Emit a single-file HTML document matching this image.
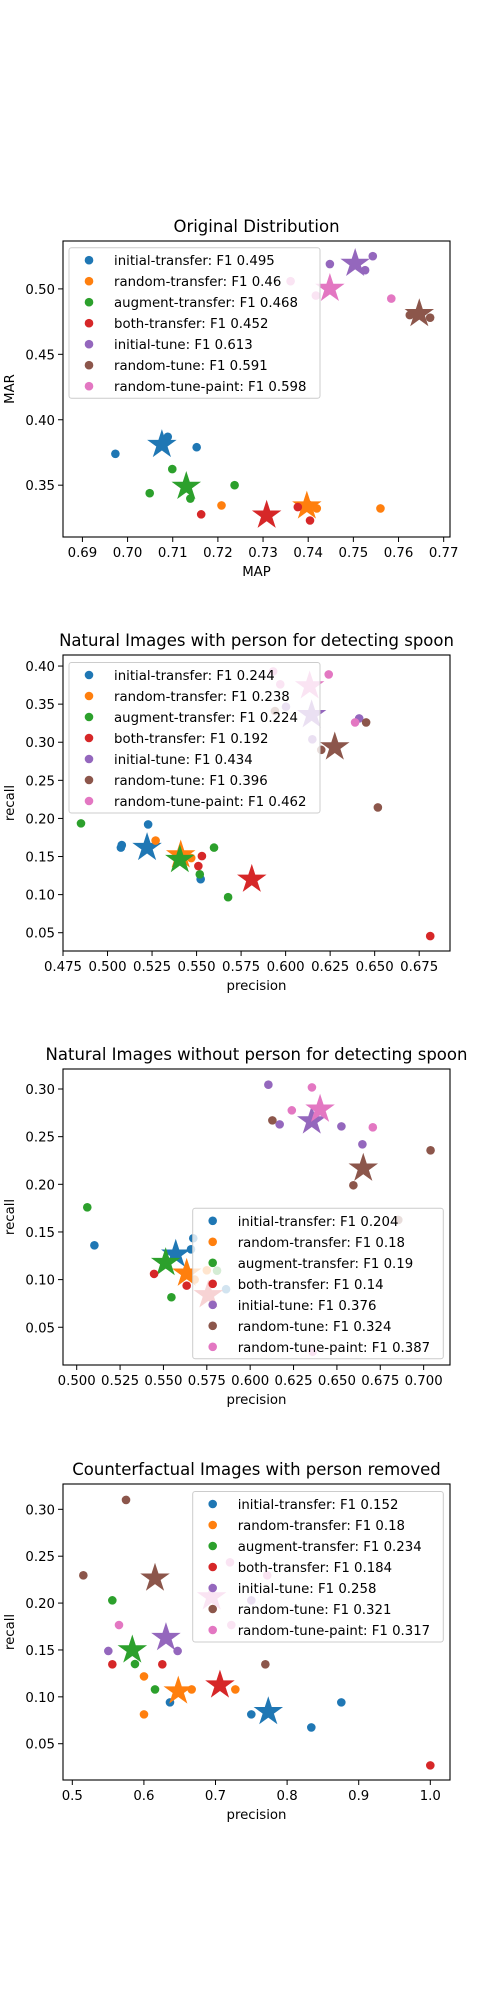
<!DOCTYPE html>
<html><head><meta charset="utf-8">
<style>
html,body{margin:0;padding:0;background:#fff;}
svg{display:block;font-family:"DejaVu Sans","Liberation Sans",sans-serif;}
</style></head>
<body>
<svg id="fig" width="500" height="2000" viewBox="0 0 500 2000" xmlns="http://www.w3.org/2000/svg"></svg>
<script>
const seriesNames = ["initial-transfer","random-transfer","augment-transfer","both-transfer","initial-tune","random-tune","random-tune-paint"];
const colors = ["#1f77b4","#ff7f0e","#2ca02c","#d62728","#9467bd","#8c564b","#e377c2"];

// Plot 1: Original Distribution
const p1F1 = ["0.495","0.46","0.468","0.452","0.613","0.591","0.598"];
const p1Dots = [
 [[0.6973,0.374],[0.7089,0.387],[0.7153,0.379],[0.7085,0.385]],
 [[0.7208,0.3345],[0.756,0.3322],[0.7419,0.3322],[0.740,0.3353]],
 [[0.7099,0.3623],[0.7049,0.3439],[0.7237,0.350],[0.7139,0.3398]],
 [[0.7163,0.3277],[0.7377,0.3333],[0.7404,0.323]],
 [[0.7448,0.519],[0.7543,0.525],[0.7526,0.5143]],
 [[0.767,0.478],[0.7625,0.480]],
 [[0.7361,0.5059],[0.7417,0.4949],[0.7584,0.4926]]
];
const p1Stars = [[0.7076,0.381],[0.7397,0.334],[0.713,0.349],[0.7308,0.327],[0.7504,0.5194],[0.7646,0.481],[0.7448,0.5003]];
const p1XTicks = [0.69,0.70,0.71,0.72,0.73,0.74,0.75,0.76,0.77];
const p1YTicks = [0.35,0.40,0.45,0.50];

// Plot 2
const p2F1 = ["0.244","0.238","0.224","0.192","0.434","0.396","0.462"];
const p2Dots = [
 [[0.5228,0.1921],[0.508,0.165],[0.5075,0.1617],[0.5523,0.1203]],
 [[0.527,0.171],[0.547,0.148]],
 [[0.4851,0.1935],[0.5598,0.1617],[0.5518,0.1267],[0.5677,0.0966]],
 [[0.553,0.1506],[0.551,0.1375],[0.6812,0.0456]],
 [[0.6413,0.3313],[0.6002,0.3466],[0.615,0.3038]],
 [[0.6452,0.326],[0.6518,0.2144],[0.594,0.341],[0.620,0.290]],
 [[0.6242,0.389],[0.639,0.326],[0.597,0.376],[0.593,0.393]]
];
const p2Stars = [[0.5222,0.1617],[0.5411,0.152],[0.5406,0.1458],[0.581,0.120],[0.6146,0.336],[0.6276,0.2937],[0.6135,0.3738]];
const p2XTicks = [0.475,0.500,0.525,0.550,0.575,0.600,0.625,0.650,0.675];
const p2YTicks = [0.05,0.10,0.15,0.20,0.25,0.30,0.35,0.40];

// Plot 3
const p3F1 = ["0.204","0.18","0.19","0.14","0.376","0.324","0.387"];
const p3Dots = [
 [[0.5102,0.136],[0.5672,0.1434],[0.5659,0.1318],[0.5861,0.0899]],
 [[0.575,0.1098],[0.568,0.100]],
 [[0.5061,0.1759],[0.5546,0.0815],[0.5809,0.1094]],
 [[0.5446,0.106],[0.5634,0.0937]],
 [[0.6105,0.3045],[0.617,0.2629],[0.6526,0.2608],[0.6647,0.242]],
 [[0.6128,0.2671],[0.6595,0.199],[0.704,0.2357],[0.6854,0.1626]],
 [[0.6356,0.3017],[0.624,0.2776],[0.6707,0.2598],[0.636,0.0244]]
];
const p3Stars = [[0.5571,0.1266],[0.5634,0.1066],[0.5513,0.1178],[0.5759,0.0839],[0.6355,0.2664],[0.6652,0.2168],[0.6403,0.2787]];
const p3XTicks = [0.500,0.525,0.550,0.575,0.600,0.625,0.650,0.675,0.700];
const p3YTicks = [0.05,0.10,0.15,0.20,0.25,0.30];

// Plot 4
const p4F1 = ["0.152","0.18","0.234","0.184","0.258","0.321","0.317"];
const p4Dots = [
 [[0.6364,0.0941],[0.75,0.0813],[0.8338,0.0674],[0.8757,0.0941]],
 [[0.6001,0.1218],[0.6001,0.0813],[0.6667,0.1079],[0.7277,0.1079]],
 [[0.5559,0.2029],[0.5875,0.135],[0.6155,0.1079]],
 [[0.5559,0.1347],[0.6257,0.1347],[1.0,0.0269]],
 [[0.5503,0.1489],[0.6471,0.1489],[0.75,0.2029]],
 [[0.5154,0.2296],[0.575,0.310],[0.7696,0.1347]],
 [[0.5652,0.1766],[0.7202,0.2435],[0.7723,0.2296],[0.7221,0.1766]]
];
const p4Stars = [[0.7737,0.0841],[0.648,0.1061],[0.5838,0.1499],[0.7062,0.1125],[0.6308,0.1631],[0.6155,0.2265],[0.6946,0.2065]];
const p4XTicks = [0.5,0.6,0.7,0.8,0.9,1.0];
const p4YTicks = [0.05,0.10,0.15,0.20,0.25,0.30];

const NS = "http://www.w3.org/2000/svg";
const svg = document.getElementById("fig");
function mk(tag, attrs, parent){
  const e = document.createElementNS(NS, tag);
  for (const k in attrs) e.setAttribute(k, attrs[k]);
  (parent||svg).appendChild(e);
  return e;
}
function starPts(cx, cy, R){
  const r = R*0.382, pts=[];
  for (let i=0;i<10;i++){
    const a = -Math.PI/2 + i*Math.PI/5;
    const rr = i%2===0?R:r;
    pts.push((cx+rr*Math.cos(a)).toFixed(2)+","+(cy+rr*Math.sin(a)).toFixed(2));
  }
  return pts.join(" ");
}

function drawPlot(cfg){
  const L=63, R=450, T=cfg.top, B=cfg.top+296;
  const sx = v => L + (v-cfg.xmin)/(cfg.xmax-cfg.xmin)*(R-L);
  const sy = v => B - (v-cfg.ymin)/(cfg.ymax-cfg.ymin)*(B-T);
  const g = mk("g",{});
  
  

  const title = mk("text",{x:(L+R)/2,y:T-9,"text-anchor":"middle","font-size":"16.5"},g);
  title.textContent = cfg.title;
  
  

  // points
  const pg = mk("g",{},g);
  
  
  for (let s=0;s<cfg.dots.length;s++){
    for (const p of cfg.dots[s]){
      const c = mk("circle",{cx:sx(p[0]),cy:sy(p[1]),r:4.3,fill:colors[s]},pg);
      
      
    }
    const st = cfg.stars[s];
    const poly = mk("polygon",{points:starPts(sx(st[0]),sy(st[1]),15.5),fill:colors[s]},pg);
    
    
  }

  // axes box
  const box = mk("rect",{x:L,y:T,width:R-L,height:B-T,fill:"none",stroke:"#000","stroke-width":1.1},g);
  
  

  // x ticks
  for (const t of cfg.xticks){
    const x = sx(t);
    mk("line",{x1:x,x2:x,y1:B,y2:B+5,stroke:"#000","stroke-width":1},g);
    const tl = mk("text",{x:x,y:B+20,"text-anchor":"middle","font-size":"13.3"},g);
    tl.textContent = t.toFixed(cfg.xdec);
    
    
  }
  for (const t of cfg.yticks){
    const y = sy(t);
    mk("line",{x1:L-5,x2:L,y1:y,y2:y,stroke:"#000","stroke-width":1},g);
    const tl = mk("text",{x:L-8,y:y+5,"text-anchor":"end","font-size":"13.3"},g);
    tl.textContent = t.toFixed(2);
    
    
  }
  const xl = mk("text",{x:(L+R)/2,y:B+39,"text-anchor":"middle","font-size":"13.3"},g);
  xl.textContent = cfg.xlabel;
  
  
  const yc = (T+B)/2;
  const yl = mk("text",{x:14,y:yc,"text-anchor":"middle","font-size":"13.3",transform:"rotate(-90 14 "+yc+")"},g);
  yl.textContent = cfg.ylabel;
  
  

  // legend
  const lg = mk("g",{},g);
  
  
  const lx = cfg.legX, ly = cfg.legY, lw = cfg.legW, lh = 150.5;
  mk("rect",{x:lx,y:ly,width:lw,height:lh,rx:2.5,fill:"#fff","fill-opacity":0.8,stroke:"#cccccc","stroke-width":1},lg);
  for (let s=0;s<seriesNames.length;s++){
    const cy = ly+12.5+s*21;
    const m = mk("circle",{cx:lx+20,cy:cy,r:4.3,fill:colors[s]},lg);
    
    
    const tx = mk("text",{x:lx+45,y:cy+5,"font-size":"13.3"},lg);
    tx.textContent = seriesNames[s]+": F1 "+cfg.f1[s];
    
    
  }
}

drawPlot({name:"chart-original-distribution",title:"Original Distribution",top:241,xmin:0.6857,xmax:0.7714,ymin:0.3104,ymax:0.5366,
  dots:p1Dots,stars:p1Stars,f1:p1F1,xticks:p1XTicks,yticks:p1YTicks,xdec:2,xlabel:"MAP",ylabel:"MAR",legX:69,legY:247.7,legW:251});
drawPlot({name:"chart-natural-with-person",title:"Natural Images with person for detecting spoon",top:655,xmin:0.475,xmax:0.6923,ymin:0.026,ymax:0.4145,
  dots:p2Dots,stars:p2Stars,f1:p2F1,xticks:p2XTicks,yticks:p2YTicks,xdec:3,xlabel:"precision",ylabel:"recall",legX:69,legY:662.5,legW:251});
drawPlot({name:"chart-natural-without-person",title:"Natural Images without person for detecting spoon",top:1069,xmin:0.4921,xmax:0.7152,ymin:0.0104,ymax:0.321,
  dots:p3Dots,stars:p3Stars,f1:p3F1,xticks:p3XTicks,yticks:p3YTicks,xdec:3,xlabel:"precision",ylabel:"recall",legX:192.7,legY:1208.3,legW:250.6});
drawPlot({name:"chart-counterfactual",title:"Counterfactual Images with person removed",top:1484,xmin:0.487,xmax:1.0275,ymin:0.0113,ymax:0.327,
  dots:p4Dots,stars:p4Stars,f1:p4F1,xticks:p4XTicks,yticks:p4YTicks,xdec:1,xlabel:"precision",ylabel:"recall",legX:192.7,legY:1491.5,legW:250.6});
</script>
</body></html>
